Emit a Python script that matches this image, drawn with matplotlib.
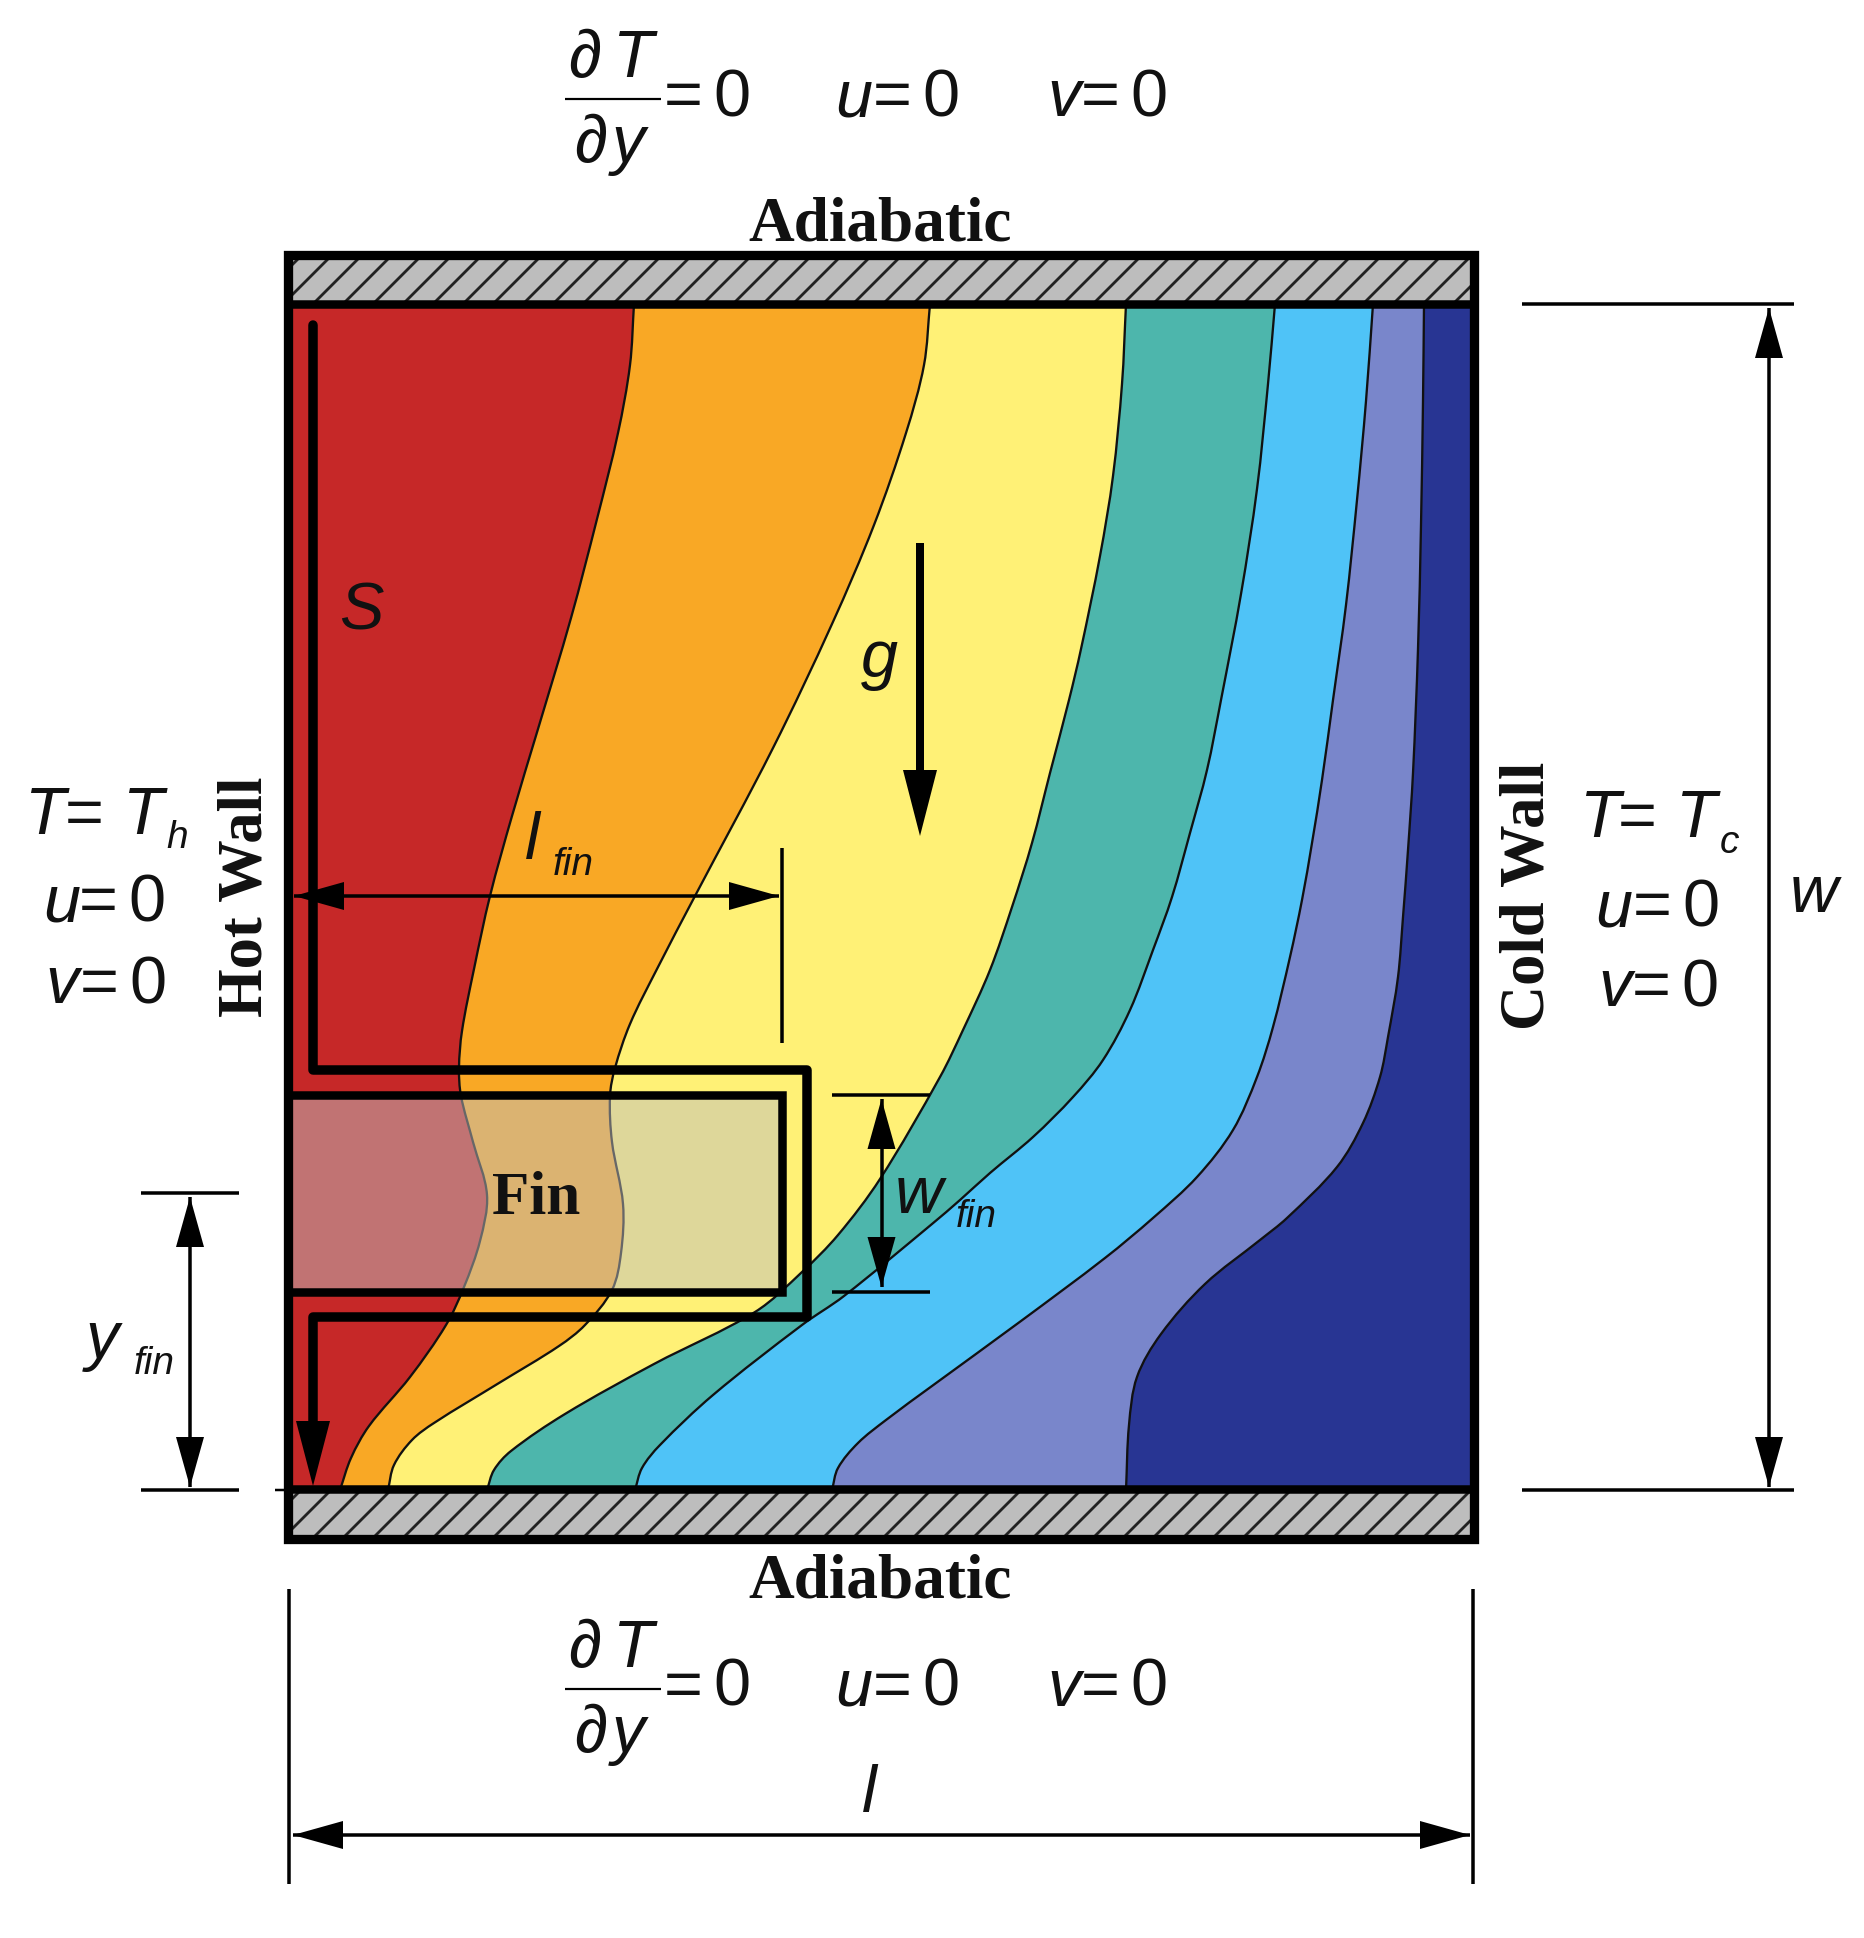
import numpy as np
import matplotlib
matplotlib.use("Agg")
import matplotlib.pyplot as plt
from matplotlib.path import Path
from matplotlib.patches import PathPatch, Polygon, Rectangle
from matplotlib.collections import LineCollection

# ---- data: temperature contour boundaries (x, y), in image pixels ----
contour_1 = [(634,304),(630,365),(618,433),(597,519),(571,618),(538,729),(512,816),(490,896),(474,969),
             (462,1031),(459,1068),(461,1096),(473,1142),(487,1195),(480,1241),(464,1287),(446,1325),
             (410,1377),(369,1426),(351,1458),(340,1490)]
contour_2 = [(930,304),(924,365),(906,433),(874,525),(832,624),(773,748),(695,896),(657,969),(630,1024),
             (615,1068),(610,1096),(612,1142),(623,1204),(621,1253),(612,1290),(585,1325),
             (559,1346),(499,1383),(434,1423),(412,1440),(394,1465),(388,1490)]
contour_3 = [(1126,304),(1122,384),(1113,476),(1100,556),(1081,649),(1069,700),(1050,773),(1032,843),
             (1012,907),(990,970),(963,1030),(940,1077),(880,1179),(838,1235),(802,1272),(755,1312),
             (654,1364),(565,1414),(511,1451),(494,1470),(487,1490)]
contour_4 = [(1275,304),(1268,384),(1257,489),(1241,594),(1221,700),(1207,770),(1190,833),(1172,897),
             (1153,950),(1130,1010),(1103,1060),(1073,1097),(1033,1137),(990,1173),(960,1200),(932,1224),
             (844,1296),(802,1325),(713,1395),(660,1445),(642,1468),(635,1490)]
contour_5 = [(1373,304),(1366,401),(1357,500),(1346,605),(1333,700),(1322,780),(1312,843),(1302,900),
             (1290,957),(1273,1027),(1257,1077),(1233,1130),(1197,1177),(1153,1218),(1105,1258),
             (1021,1321),(932,1386),(886,1420),(858,1443),(838,1468),(832,1490)]
contour_6 = [(1424,304),(1423,401),(1421,525),(1418,649),(1413,773),(1408,850),(1403,917),
             (1398,977),(1388,1037),(1380,1077),(1363,1123),(1337,1167),(1287,1218),(1260,1240),
             (1205,1284),(1161,1334),(1137,1377),(1129,1425),(1126,1490)]
contours = [contour_1, contour_2, contour_3, contour_4, contour_5, contour_6]
band_colors = ["#C62828", "#F9A825", "#FFF176", "#4DB6AC", "#4FC3F7", "#7986CB", "#283593"]

# geometry of the cavity
L, R, T_OUT, T_IN, B_IN, B_OUT = 288, 1474, 255, 304, 1489, 1539
FIN_R, FIN_T, FIN_B = 782, 1094.5, 1292
S_X, S_TOP, S_UP, S_RIGHT, S_LOW = 313, 325, 1069.5, 807, 1316.5

PX = 0.72  # points per pixel at dpi 100
SANS = "Liberation Sans"
SERIF = "Liberation Serif"
SIZE, SUB = 48, 28

fig = plt.figure(figsize=(18.64, 19.38), dpi=100)
ax = fig.add_axes([0, 0, 1, 1])
ax.set_xlim(0, 1864)
ax.set_ylim(1938, 0)
ax.axis("off")


def smooth(points):
    """Smooth cubic Bezier path through the anchors."""
    p = np.asarray(points, float)
    t = np.zeros_like(p)
    t[1:-1] = p[2:] - p[:-2]
    t[0], t[-1] = p[1] - p[0], p[-1] - p[-2]
    t /= np.hypot(t[:, 0], t[:, 1])[:, None]
    verts, codes = [p[0]], [Path.MOVETO]
    for i in range(len(p) - 1):
        h = np.hypot(*(p[i + 1] - p[i])) / 3
        verts += [p[i] + t[i] * h, p[i + 1] - t[i + 1] * h, p[i + 1]]
        codes += [Path.CURVE4] * 3
    return verts, codes


# filled bands
ax.add_patch(Rectangle((L, T_IN), R - L, B_IN - T_IN, fc=band_colors[0], ec="none", zorder=1))
for k, (c, col) in enumerate(zip(contours, band_colors[1:])):
    v, cd = smooth(c)
    v2 = v + [(R, c[-1][1]), (R, c[0][1]), v[0]]
    cd2 = cd + [Path.LINETO, Path.LINETO, Path.CLOSEPOLY]
    ax.add_patch(PathPatch(Path(v2, cd2), fc=col, ec="none", zorder=1 + k * 0.01))
for c in contours:
    v, cd = smooth(c)
    ax.add_patch(PathPatch(Path(v, cd), fc="none", ec="#111111", lw=2.3 * PX, zorder=2))

# hatched walls
for y0, y1 in [(T_OUT, T_IN), (B_IN, B_OUT)]:
    rect = Rectangle((L, y0), R - L, y1 - y0, fc="#BDBDBD", ec="none", zorder=3)
    ax.add_patch(rect)
    h = y1 - y0
    segs = [[(x, y1), (x + h, y0)] for x in np.arange(L - h + 14, R, 30)]
    lc = LineCollection(segs, colors="#222222", linewidths=2.8 * PX, zorder=3.1)
    ax.add_collection(lc)
    lc.set_clip_path(rect)

# fin overlay
ax.add_patch(Rectangle((L, FIN_T), FIN_R - L, FIN_B - FIN_T, fc="#BEBEBE", alpha=0.5, ec="none", zorder=4))

# frame
ax.add_patch(Rectangle((L, T_OUT), R - L, B_OUT - T_OUT, fc="none", ec="black", lw=9.3 * PX, zorder=5))
ax.plot([L, R], [T_IN, T_IN], color="black", lw=8.5 * PX, solid_capstyle="butt", zorder=5)
ax.plot([L, R], [B_IN, B_IN], color="black", lw=8.5 * PX, solid_capstyle="butt", zorder=5)

# fin outline
ax.add_patch(Rectangle((L, FIN_T), FIN_R - L, FIN_B - FIN_T, fc="none", ec="black", lw=8.5 * PX, zorder=6))

# s path
ax.plot([S_X, S_X, S_RIGHT, S_RIGHT, S_X, S_X], [S_TOP, S_UP, S_UP, S_LOW, S_LOW, 1430], color="black",
        lw=9.5 * PX, solid_joinstyle="round", solid_capstyle="round", zorder=6)


def head(tip, tail, length, width, z=7):
    tip, tail = np.asarray(tip, float), np.asarray(tail, float)
    d = (tip - tail) / np.hypot(*(tip - tail))
    n = np.array([-d[1], d[0]])
    b = tip - d * length
    ax.add_patch(Polygon([tip, b + n * width / 2, b - n * width / 2], fc="black", ec="none", zorder=z))


def thin(xs, ys, lw=3.5):
    ax.plot(xs, ys, color="black", lw=lw * PX, solid_capstyle="butt", zorder=6)


def dim(a, b, length=50, width=28):
    thin([a[0], b[0]], [a[1], b[1]])
    head(a, b, length, width)
    head(b, a, length, width)


head((S_X, 1486), (S_X, 1300), 65, 34)
ax.plot([920, 920], [543, 780], color="black", lw=8 * PX, solid_capstyle="butt", zorder=6)
head((920, 836), (920, 543), 66, 34)

dim((294, 896), (779, 896))
thin([782, 782], [848, 1043])
thin([832, 930], [FIN_T, FIN_T])
thin([832, 930], [FIN_B, FIN_B])
dim((881.5, 1099), (881.5, 1287))
thin([141, 239], [1193, 1193])
thin([141, 239], [1490, 1490])
dim((190, 1197), (190, 1487))
thin([275, 288], [1490, 1490], 2.5)
thin([1522, 1794], [304, 304])
thin([1522, 1794], [1490, 1490])
dim((1769, 308), (1769, 1487))
thin([289, 289], [1589, 1884])
thin([1473, 1473], [1589, 1884])
dim((293, 1835), (1470, 1835))


def txt(x, y, s, style="italic", size=SIZE, **kw):
    ax.text(x, y, s, family=[SANS, "DejaVu Sans"], style=style, fontsize=size, ha="left", va="baseline",
            color="#111111", zorder=8, **kw)


def eq(x, y):
    txt(x, y, "=", style="normal")
    txt(x + 49, y, "0", style="normal")


def serif(x, y, s, rotation=0, size=45.5):
    ax.text(x, y, s, family=SERIF, weight="bold", fontsize=size, rotation=rotation, rotation_mode="anchor",
            ha="center", va="baseline", color="#111111", zorder=8)


# boundary conditions, top and bottom
for dy in (0, 1590):
    txt(568, 77 + dy, "\u2202")
    txt(612, 77 + dy, "T")
    txt(574, 162 + dy, "\u2202")
    txt(612, 162 + dy, "y")
    thin([565, 661], [99 + dy, 99 + dy], 2.2)
    eq(664, 116 + dy)
    txt(835, 116 + dy, "u")
    eq(873, 116 + dy)
    txt(1047, 116 + dy, "v")
    eq(1081, 116 + dy)

serif(880, 240, "Adiabatic")
serif(880, 1598, "Adiabatic")

# left block
txt(24, 834, "T"); txt(65, 834, "=", style="normal"); txt(122, 834, "T"); txt(166, 848, "h", size=SUB)
txt(43, 921, "u"); eq(79, 921)
txt(45, 1003, "v"); eq(80, 1003)
serif(262, 897, "Hot Wall", rotation=90, size=45)

# right block
txt(1579, 837, "T"); txt(1618, 837, "=", style="normal"); txt(1675, 837, "T"); txt(1720, 853, "c", size=SUB)
txt(1595, 926, "u"); eq(1633, 926)
txt(1598, 1006, "v"); eq(1632, 1006)
serif(1544, 896, "Cold Wall", rotation=90, size=45)

# labels
txt(339, 629, "S")
txt(861, 677, "g")
txt(525, 859, "l"); txt(553, 875, "fin", size=SUB)
txt(895, 1213, "w"); txt(956, 1227, "fin", size=SUB)
txt(86, 1358, "y"); txt(134, 1374, "fin", size=SUB)
txt(1790, 912, "w")
txt(862, 1812, "l")
serif(536, 1214, "Fin", size=44)

fig.savefig("out.png", dpi=100, facecolor="white")
